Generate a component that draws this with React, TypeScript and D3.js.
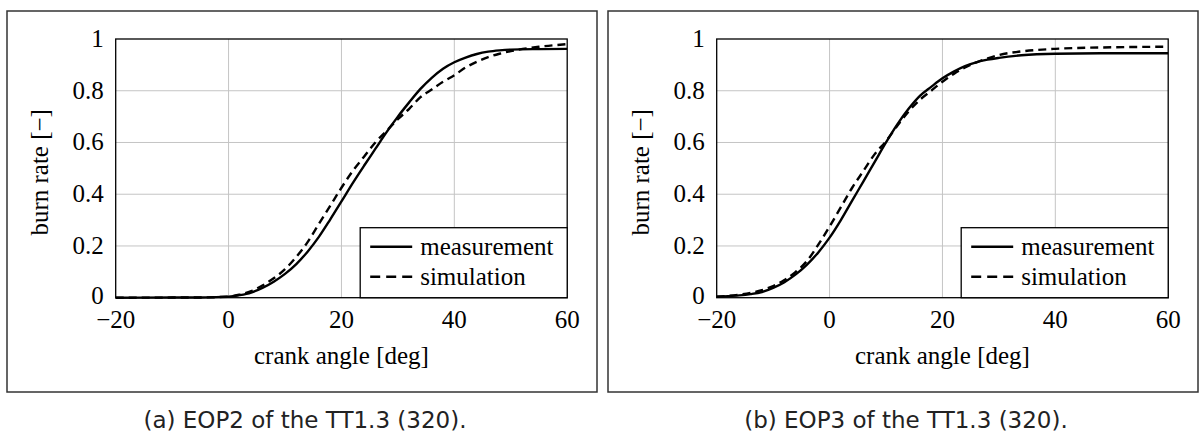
import React from 'react';
import { scaleLinear, line, curveMonotoneX } from 'd3';

// crank angle [deg] / burn rate [-]
const eop2Angle = [-20, -10, -5, 0, 2, 4, 6, 8, 10, 12, 14, 16, 18, 20, 22, 24, 26, 28, 30, 32, 34, 36, 38, 40, 42, 44, 46, 48, 50, 55, 60];
const eop2Measurement = [0, 0.0005, 0.001, 0.004, 0.01, 0.02, 0.038, 0.062, 0.092, 0.13, 0.178, 0.235, 0.302, 0.372, 0.443, 0.51, 0.575, 0.64, 0.7, 0.755, 0.807, 0.85, 0.885, 0.91, 0.928, 0.942, 0.951, 0.956, 0.959, 0.961, 0.962];
const eop2Simulation = [0, 0.0005, 0.001, 0.004, 0.012, 0.025, 0.047, 0.075, 0.11, 0.158, 0.215, 0.285, 0.355, 0.425, 0.49, 0.545, 0.6, 0.645, 0.69, 0.73, 0.775, 0.805, 0.835, 0.86, 0.89, 0.912, 0.93, 0.943, 0.953, 0.97, 0.98];

const eop3Angle = [-20, -18, -16, -14, -12, -10, -8, -6, -4, -2, 0, 2, 4, 6, 8, 10, 12, 14, 16, 18, 20, 22, 24, 26, 28, 30, 34, 40, 50, 60];
const eop3Measurement = [0.004, 0.006, 0.009, 0.014, 0.022, 0.038, 0.06, 0.09, 0.128, 0.175, 0.232, 0.3, 0.375, 0.45, 0.525, 0.6, 0.67, 0.73, 0.78, 0.815, 0.848, 0.874, 0.895, 0.91, 0.92, 0.927, 0.937, 0.943, 0.945, 0.945];
const eop3Simulation = [0.004, 0.007, 0.012, 0.019, 0.029, 0.045, 0.068, 0.1, 0.142, 0.205, 0.275, 0.35, 0.425, 0.49, 0.555, 0.605, 0.665, 0.72, 0.765, 0.8, 0.835, 0.865, 0.89, 0.91, 0.925, 0.938, 0.952, 0.962, 0.968, 0.97];

const xTicks = [-20, 0, 20, 40, 60];
const xTickLabels = ['−20', '0', '20', '40', '60'];
const yTicks = [0, 0.2, 0.4, 0.6, 0.8, 1];
const yTickLabels = ['0', '0.2', '0.4', '0.6', '0.8', '1'];

const seriesNames = ['measurement', 'simulation'];
const captions = ['(a) EOP2 of the TT1.3 (320).', '(b) EOP3 of the TT1.3 (320).'];

const SERIF = '"Liberation Serif", "Times New Roman", serif';
const FS = 25;
const DASH = '8 5';

function Panel({ dx, angle, meas, sim, caption }) {
	const left = 115.7;
	const top = 39;
	const w = 451.5;
	const h = 258.7;
	const x = scaleLinear().domain([-20, 60]).range([left, left + w]);
	const y = scaleLinear().domain([0, 1]).range([top + h, top]);
	const gen = line().x((d) => x(d[0])).y((d) => y(d[1])).curve(curveMonotoneX);
	const measPath = gen(angle.map((a, i) => [a, meas[i]]));
	const simPath = gen(angle.map((a, i) => [a, sim[i]]));

	const legW = 207;
	const legH = 70;
	const legX = left + w - legW;
	const legY = top + h - legH;

	return (
		<g transform={`translate(${dx},0)`}>
			<rect x={7} y={11} width={590} height={381} fill="none" stroke="#333" strokeWidth={1.5} />
			{xTicks.slice(1, -1).map((t) => (
				<line key={'gx' + t} x1={x(t)} x2={x(t)} y1={top} y2={top + h} stroke="#c4c4c4" strokeWidth={1} />
			))}
			{yTicks.slice(1, -1).map((t) => (
				<line key={'gy' + t} x1={left} x2={left + w} y1={y(t)} y2={y(t)} stroke="#c4c4c4" strokeWidth={1} />
			))}
			<path d={measPath} fill="none" stroke="#000" strokeWidth={2.4} />
			<path d={simPath} fill="none" stroke="#000" strokeWidth={2.4} strokeDasharray={DASH} />
			<rect x={left} y={top} width={w} height={h} fill="none" stroke="#000" strokeWidth={1.3} />

			<rect x={legX} y={legY} width={legW} height={legH} fill="#fff" stroke="#000" strokeWidth={1.3} />
			{seriesNames.map((name, i) => (
				<g key={name}>
					<line
						x1={legX + 10}
						x2={legX + 52}
						y1={legY + 19 + i * 30}
						y2={legY + 19 + i * 30}
						stroke="#000"
						strokeWidth={2.4}
						strokeDasharray={i === 1 ? '10 6' : undefined}
					/>
					<text x={legX + 60} y={legY + 27 + i * 30} fontFamily={SERIF} fontSize={FS} fill="#000">
						{name}
					</text>
				</g>
			))}

			{xTicks.map((t, i) => (
				<text key={'tx' + t} x={x(t)} y={top + h + 30} textAnchor="middle" fontFamily={SERIF} fontSize={FS} fill="#000">
					{xTickLabels[i]}
				</text>
			))}
			{yTicks.map((t, i) => (
				<text key={'ty' + t} x={left - 12} y={y(t) + (t === 0 ? 6 : 8)} textAnchor="end" fontFamily={SERIF} fontSize={FS} fill="#000">
					{yTickLabels[i]}
				</text>
			))}
			<text x={x(20)} y={364} textAnchor="middle" fontFamily={SERIF} fontSize={FS} fill="#000">
				crank angle [deg]
			</text>
			<text
				transform={`translate(48,${top + h / 2 + 4}) rotate(-90)`}
				textAnchor="middle"
				fontFamily={SERIF}
				fontSize={FS}
				fill="#000"
			>
				burn rate [−]
			</text>
			<text x={305} y={428} textAnchor="middle" fontFamily='"DejaVu Sans", sans-serif' fontSize={23} fill="#222">
				{caption}
			</text>
		</g>
	);
}

export default function App() {
	return (
		<svg
			width={1202}
			height={439}
			viewBox="0 0 1202 439"
			style={{ position: 'absolute', left: 0, top: 0, background: '#fff' }}
		>
			<rect width={1202} height={439} fill="#fff" />
			<Panel dx={0} angle={eop2Angle} meas={eop2Measurement} sim={eop2Simulation} caption={captions[0]} />
			<Panel dx={601} angle={eop3Angle} meas={eop3Measurement} sim={eop3Simulation} caption={captions[1]} />
		</svg>
	);
}
